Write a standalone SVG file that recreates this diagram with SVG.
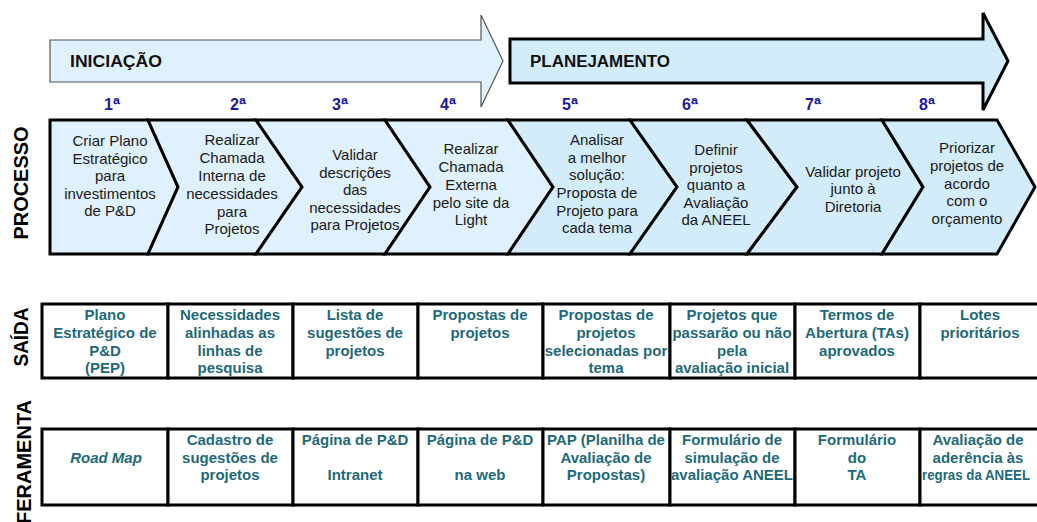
<svg xmlns="http://www.w3.org/2000/svg" width="1037" height="522" viewBox="0 0 1037 522">
<style>
text{font-family:"Liberation Sans",Arial,Helvetica,sans-serif}
.chev{stroke:#000;stroke-width:3;stroke-linejoin:miter}
.ca{fill:#dff1fc}
.cb{fill:#d2ecfa}
.pt{font-size:15px;fill:#1a1a1a;text-anchor:middle}
.ct{font-size:15px;font-weight:bold;fill:#1e6a79;text-anchor:middle}
.cell{fill:#fff;stroke:#000;stroke-width:3}
.num{font-size:16px;font-weight:bold;fill:#1b1b9a;text-anchor:middle}
.sup{font-size:19px}
.side{font-size:20px;font-weight:bold;fill:#000}
.hdr{font-size:16px;font-weight:bold;fill:#111}
</style>
<rect width="1037" height="522" fill="#fff"/>
<g id="phase-iniciacao">
<polygon points="50,40 481,40 481,15 503,61 481,107 481,82 50,82" fill="#dff1fc" stroke="#555" stroke-width="1.2"/>
<text class="hdr" x="70" y="67" textLength="92" lengthAdjust="spacingAndGlyphs">INICIAÇÃO</text>
</g>
<g id="phase-planejamento">
<polygon points="510,39 983,39 983,13 1008,61 983,110 983,83 510,83" fill="#d2ecfa" stroke="#000" stroke-width="3"/>
<text class="hdr" x="530" y="67" textLength="140" lengthAdjust="spacingAndGlyphs">PLANEJAMENTO</text>
</g>
<g id="steps">
<text class="num" x="112" y="110">1<tspan class="sup" dy="1">ª</tspan></text>
<text class="num" x="238" y="110">2<tspan class="sup" dy="1">ª</tspan></text>
<text class="num" x="340" y="110">3<tspan class="sup" dy="1">ª</tspan></text>
<text class="num" x="448" y="110">4<tspan class="sup" dy="1">ª</tspan></text>
<text class="num" x="570" y="110">5<tspan class="sup" dy="1">ª</tspan></text>
<text class="num" x="690" y="110">6<tspan class="sup" dy="1">ª</tspan></text>
<text class="num" x="813" y="110">7<tspan class="sup" dy="1">ª</tspan></text>
<text class="num" x="927" y="110">8<tspan class="sup" dy="1">ª</tspan></text>
</g>
<g id="labels">
<text class="side" transform="translate(28,183) rotate(-90)" text-anchor="middle" textLength="113" lengthAdjust="spacingAndGlyphs">PROCESSO</text>
<text class="side" transform="translate(28,337) rotate(-90)" text-anchor="middle" textLength="59" lengthAdjust="spacingAndGlyphs">SAÍDA</text>
<text class="side" transform="translate(31,524) rotate(-90)">FERAMENTA</text>
</g>
<g id="connectors"/>
<g id="p1"><polygon class="chev ca" points="50,120 148,120 178,187 148,254 50,254"/>
<text class="pt"><tspan x="110" y="146">Criar Plano</tspan><tspan x="110" y="163.5">Estratégico</tspan><tspan x="110" y="181">para</tspan><tspan x="110" y="198.5">investimentos</tspan><tspan x="110" y="216">de P&amp;D</tspan></text></g>
<g id="p2"><polygon class="chev ca" points="148,120 256,120 302,187 256,254 148,254 178,187"/>
<text class="pt"><tspan x="232" y="145">Realizar</tspan><tspan x="232" y="163">Chamada</tspan><tspan x="232" y="181">Interna de</tspan><tspan x="232" y="199">necessidades</tspan><tspan x="232" y="216.5">para</tspan><tspan x="232" y="233.5">Projetos</tspan></text></g>
<g id="p3"><polygon class="chev ca" points="256,120 385,120 430,187 385,254 256,254 302,187"/>
<text class="pt"><tspan x="355" y="160">Validar</tspan><tspan x="355" y="178">descrições</tspan><tspan x="355" y="195">das</tspan><tspan x="355" y="213">necessidades</tspan><tspan x="355" y="230">para Projetos</tspan></text></g>
<g id="p4"><polygon class="chev ca" points="385,120 508,120 553,187 508,254 385,254 430,187"/>
<text class="pt"><tspan x="471" y="154">Realizar</tspan><tspan x="471" y="172">Chamada</tspan><tspan x="471" y="190">Externa</tspan><tspan x="471" y="208">pelo site da</tspan><tspan x="471" y="225">Light</tspan></text></g>
<g id="p5"><polygon class="chev cb" points="508,120 630,120 677,187 630,254 508,254 553,187"/>
<text class="pt"><tspan x="597" y="145">Analisar</tspan><tspan x="597" y="163">a melhor</tspan><tspan x="597" y="180">solução:</tspan><tspan x="597" y="198">Proposta de</tspan><tspan x="597" y="216">Projeto para</tspan><tspan x="597" y="233">cada tema</tspan></text></g>
<g id="p6"><polygon class="chev cb" points="630,120 747,120 797,187 747,254 630,254 677,187"/>
<text class="pt"><tspan x="716" y="155">Definir</tspan><tspan x="716" y="172.5">projetos</tspan><tspan x="716" y="190">quanto a</tspan><tspan x="716" y="207.5">Avaliação</tspan><tspan x="716" y="225">da ANEEL</tspan></text></g>
<g id="p7"><polygon class="chev cb" points="747,120 882,120 923,187 882,254 747,254 797,187"/>
<text class="pt"><tspan x="853" y="177">Validar projeto</tspan><tspan x="853" y="194">junto à</tspan><tspan x="853" y="212">Diretoria</tspan></text></g>
<g id="p8"><polygon class="chev cb" points="882,120 997,120 1035,187 997,254 882,254 923,187"/>
<text class="pt"><tspan x="967" y="153">Priorizar</tspan><tspan x="967" y="171">projetos de</tspan><tspan x="967" y="188.5">acordo</tspan><tspan x="967" y="206">com o</tspan><tspan x="967" y="223.5">orçamento</tspan></text></g>

<g id="s1"><rect class="cell" x="42" y="304" width="126" height="74"/>
<text class="ct"><tspan x="105" y="320">Plano</tspan><tspan x="105" y="338">Estratégico de</tspan><tspan x="105" y="356">P&amp;D</tspan><tspan x="105" y="373">(PEP)</tspan></text></g>
<g id="s2"><rect class="cell" x="168" y="304" width="125" height="74"/>
<text class="ct"><tspan x="230" y="320">Necessidades</tspan><tspan x="230" y="338">alinhadas as</tspan><tspan x="230" y="356">linhas de</tspan><tspan x="230" y="373">pesquisa</tspan></text></g>
<g id="s3"><rect class="cell" x="293" y="304" width="125" height="74"/>
<text class="ct"><tspan x="355" y="320">Lista de</tspan><tspan x="355" y="338">sugestões de</tspan><tspan x="355" y="356">projetos</tspan></text></g>
<g id="s4"><rect class="cell" x="418" y="304" width="125" height="74"/>
<text class="ct"><tspan x="480" y="320">Propostas de</tspan><tspan x="480" y="338">projetos</tspan></text></g>
<g id="s5"><rect class="cell" x="543" y="304" width="127" height="74"/>
<text class="ct"><tspan x="606" y="320">Propostas de</tspan><tspan x="606" y="338">projetos</tspan><tspan x="606" y="356">selecionadas por</tspan><tspan x="606" y="373">tema</tspan></text></g>
<g id="s6"><rect class="cell" x="670" y="304" width="125" height="74"/>
<text class="ct"><tspan x="732" y="320">Projetos que</tspan><tspan x="732" y="338">passarão ou não</tspan><tspan x="732" y="356">pela</tspan><tspan x="732" y="373">avaliação inicial</tspan></text></g>
<g id="s7"><rect class="cell" x="795" y="304" width="125" height="74"/>
<text class="ct"><tspan x="857" y="320">Termos de</tspan><tspan x="857" y="338">Abertura (TAs)</tspan><tspan x="857" y="356">aprovados</tspan></text></g>
<g id="s8"><rect class="cell" x="920" y="304" width="119" height="74"/>
<text class="ct"><tspan x="980" y="320">Lotes</tspan><tspan x="980" y="338">prioritários</tspan></text></g>

<g id="f1"><rect class="cell" x="42" y="429" width="126" height="76"/>
<text class="ct" font-style="italic"><tspan x="106" y="463">Road Map</tspan></text></g>
<g id="f2"><rect class="cell" x="168" y="429" width="125" height="76"/>
<text class="ct"><tspan x="230" y="445">Cadastro de</tspan><tspan x="230" y="462.5">sugestões de</tspan><tspan x="230" y="480">projetos</tspan></text></g>
<g id="f3"><rect class="cell" x="293" y="429" width="125" height="76"/>
<text class="ct"><tspan x="355" y="445">Página de P&amp;D</tspan><tspan x="355" y="480">Intranet</tspan></text></g>
<g id="f4"><rect class="cell" x="418" y="429" width="125" height="76"/>
<text class="ct"><tspan x="480" y="445">Página de P&amp;D</tspan><tspan x="480" y="480">na web</tspan></text></g>
<g id="f5"><rect class="cell" x="543" y="429" width="127" height="76"/>
<text class="ct"><tspan x="606" y="445">PAP (Planilha de</tspan><tspan x="606" y="462.5">Avaliação de</tspan><tspan x="606" y="480">Propostas)</tspan></text></g>
<g id="f6"><rect class="cell" x="670" y="429" width="125" height="76"/>
<text class="ct"><tspan x="732" y="445">Formulário de</tspan><tspan x="732" y="462.5">simulação de</tspan><tspan x="732" y="480">avaliação ANEEL</tspan></text></g>
<g id="f7"><rect class="cell" x="795" y="429" width="125" height="76"/>
<text class="ct"><tspan x="857" y="445">Formulário</tspan><tspan x="857" y="462.5">do</tspan><tspan x="857" y="480">TA</tspan></text></g>
<g id="f8"><rect class="cell" x="920" y="429" width="119" height="76"/>
<text class="ct"><tspan x="978" y="445">Avaliação de</tspan><tspan x="978" y="462.5">aderência às</tspan></text>
<text class="ct" x="976" y="480" textLength="108" lengthAdjust="spacingAndGlyphs">regras da ANEEL</text></g>
</svg>
